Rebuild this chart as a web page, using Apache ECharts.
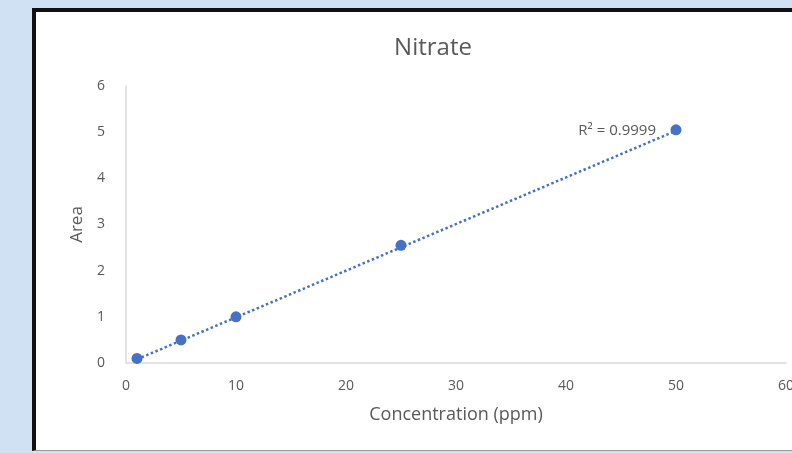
<!DOCTYPE html>
<html>
<head>
<meta charset="utf-8">
<script src="https://cdn.jsdelivr.net/npm/echarts@6/dist/echarts.min.js"></script>
<style>
html,body{margin:0;padding:0;width:792px;height:453px;overflow:hidden;background:#cfe1f2;}
#frame{position:absolute;left:32px;top:8px;width:800px;height:443px;background:#fff;border-left:4px solid #111;border-top:4px solid #111;border-bottom:1px solid #999;box-sizing:border-box;}
#chart{position:absolute;left:0;top:0;width:792px;height:453px;}
</style>
</head>
<body>
<div id="frame"></div>
<div id="chart"></div>
<script>
var concentration = [1, 5, 10, 25, 50];
var area = [0.1, 0.5, 1.0, 2.55, 5.05];
var trendX = [1, 50];
var trendY = [0.08, 5.03];
var rSquaredText = 'R² = 0.9999';
var xTicks = [0, 10, 20, 30, 40, 50, 60];
var yTicks = [0, 1, 2, 3, 4, 5, 6];

var chart = echarts.init(document.getElementById('chart'), null, {renderer: 'canvas'});
var font = 'Open Sans';
var txt = '#595959';
chart.setOption({
  backgroundColor: 'transparent',
  animation: false,
  title: {
    text: 'Nitrate', left: 428, top: 31, textAlign: 'center',
    textStyle: {fontFamily: font, fontSize: 24, fontWeight: 'normal', color: txt}
  },
  grid: {left: 126, right: 6, top: 86, bottom: 90, containLabel: false, outerBoundsMode: 'none'},
  xAxis: {
    type: 'value', min: xTicks[0], max: xTicks[xTicks.length-1], interval: 10,
    name: 'Concentration (ppm)', nameLocation: 'middle', nameGap: 43,
    nameTextStyle: {fontFamily: font, fontSize: 18, color: txt},
    axisLine: {show: true, lineStyle: {color: '#d9d9d9', width: 1.5}},
    axisTick: {show: false},
    splitLine: {show: false},
    axisLabel: {fontFamily: font, fontSize: 14, color: txt, margin: 16}
  },
  yAxis: {
    type: 'value', min: yTicks[0], max: yTicks[yTicks.length-1], interval: 1,
    name: 'Area', nameLocation: 'middle', nameGap: 36, nameRotate: 90,
    nameTextStyle: {fontFamily: font, fontSize: 17, color: txt},
    axisLine: {show: true, lineStyle: {color: '#d9d9d9', width: 1.5}},
    axisTick: {show: false},
    splitLine: {show: false},
    axisLabel: {fontFamily: font, fontSize: 14, color: txt, margin: 21}
  },
  series: [
    {
      type: 'line',
      data: trendX.map(function(x, i){ return [x, trendY[i]]; }),
      symbol: 'none',
      lineStyle: {color: '#4472c4', width: 2.5, type: [2.5, 2.5]},
      silent: true,
      z: 1,
      markPoint: {
        symbol: 'circle', symbolSize: 0,
        data: [{coord: [trendX[1], trendY[1]], value: rSquaredText}],
        label: {show: true, formatter: rSquaredText, position: 'left', distance: 20,
          fontFamily: font, fontSize: 15, color: txt}
      }
    },
    {
      type: 'scatter',
      data: concentration.map(function(x, i){ return [x, area[i]]; }),
      symbol: 'circle', symbolSize: 11,
      itemStyle: {color: '#4472c4', opacity: 1},
      z: 2
    }
  ]
});
</script>
</body>
</html>
